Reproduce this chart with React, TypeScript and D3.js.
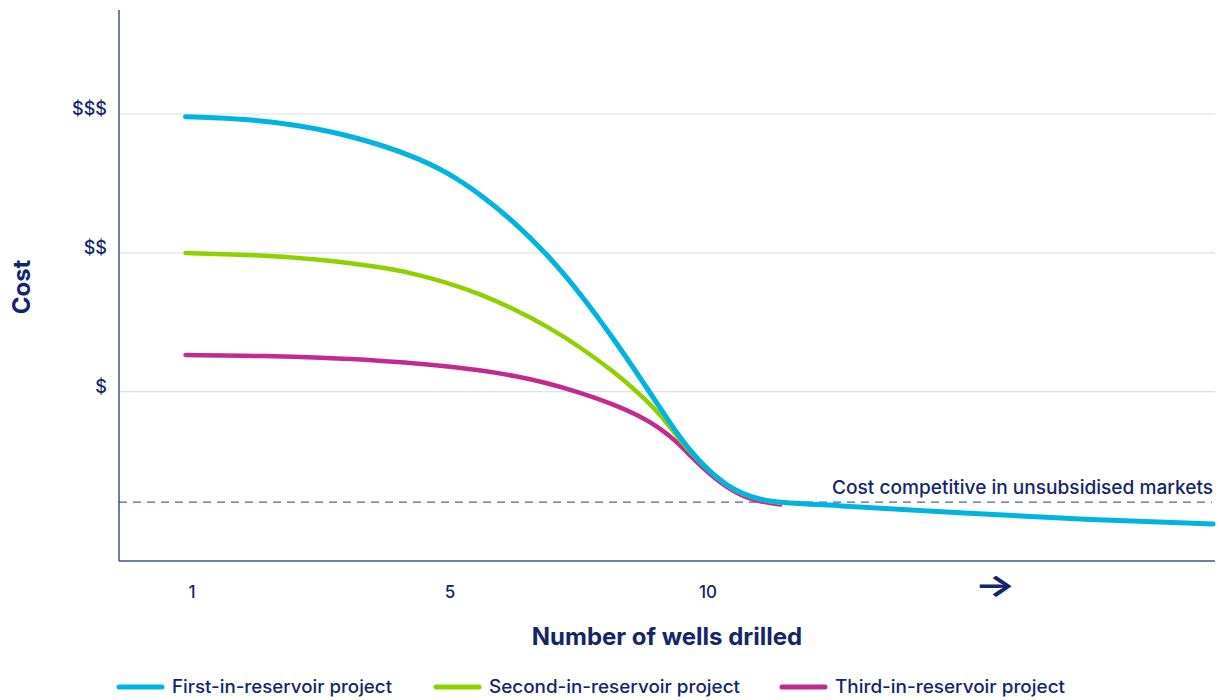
import React from "react";
import { scaleLinear, line, curveBasis } from "d3";

// x: wells drilled, y: relative cost ($ = 1, $$ = 2, $$$ = 3)
const firstWells = [0.9, 1.74, 2.67, 3.6, 4.43, 4.95, 5.58, 6.22, 6.88, 7.52, 8.16, 8.78, 9.26, 9.65, 10.04, 10.37, 10.68, 11.01, 11.4, 12.31, 14.88, 17.46, 19.79];
const firstCost = [2.981, 2.968, 2.921, 2.828, 2.698, 2.583, 2.424, 2.23, 1.992, 1.711, 1.387, 1.048, 0.775, 0.573, 0.42, 0.324, 0.263, 0.223, 0.202, 0.184, 0.126, 0.076, 0.047];

const secondWells = [0.9, 2.21, 2.98, 3.92, 4.43, 4.95, 5.58, 6.22, 6.88, 7.52, 8.16, 8.68, 9.07, 9.36, 9.65, 10.04, 10.37, 10.68, 11.01, 11.4];
const secondCost = [1.999, 1.981, 1.952, 1.898, 1.852, 1.787, 1.704, 1.599, 1.473, 1.322, 1.149, 0.983, 0.839, 0.699, 0.567, 0.419, 0.322, 0.261, 0.221, 0.2];

const thirdWells = [0.9, 2.21, 2.98, 3.92, 4.69, 5.58, 6.22, 6.88, 7.52, 8.16, 8.68, 9.07, 9.4, 9.71, 10.04, 10.37, 10.68, 11.01, 11.4];
const thirdCost = [1.264, 1.257, 1.246, 1.225, 1.196, 1.156, 1.117, 1.063, 0.994, 0.911, 0.825, 0.738, 0.638, 0.519, 0.403, 0.31, 0.245, 0.209, 0.187];

const seriesNames = ["First-in-reservoir project", "Second-in-reservoir project", "Third-in-reservoir project"];
const seriesColors = ["#00b4e0", "#8fd100", "#c22a8f"];

const xTickValues = [1, 5, 10, 15.56];
const xTickLabels = ["1", "5", "10", "→"];
const yTickValues = [1, 2, 3];
const yTickLabels = ["$", "$$", "$$$"];
const thresholdCost = 0.205;
const thresholdLabel = "Cost competitive in unsubsidised markets";

const navy = "#13266b";
const axisColor = "#3d5391";
const font = "Inter, 'Noto Sans', sans-serif";

const App = () => {
  const width = 1220;
  const height = 700;
  const left = 119;
  const right = 1215;
  const top = 10;
  const bottom = 561;

  // tick spacing in the original is not proportional, hence a piecewise scale
  const xScale = scaleLinear().domain([1, 5, 10]).range([192, 450, 708]);
  const yScale = scaleLinear().domain([1, 3]).range([391.7, 114]);

  const makePath = (wells: number[], cost: number[]) =>
    line<number>()
      .x((d) => xScale(d))
      .y((d, i) => yScale(cost[i]))
      .curve(curveBasis)(wells) as string;

  const series = [
    { wells: thirdWells, cost: thirdCost, color: seriesColors[2], w: 4.5 },
    { wells: secondWells, cost: secondCost, color: seriesColors[1], w: 4.5 },
    { wells: firstWells, cost: firstCost, color: seriesColors[0], w: 5 },
  ];

  const legendX = [119, 436, 782];

  return (
    <svg
      width={width}
      height={height}
      viewBox={`0 0 ${width} ${height}`}
      style={{ position: "absolute", left: 0, top: 0, background: "#fff" }}
      fontFamily={font}
    >
      {/* gridlines */}
      {yTickValues.map((v, i) => (
        <g key={i}>
          <line x1={left} x2={right} y1={yScale(v)} y2={yScale(v)} stroke="#dde0ec" strokeWidth={1.2} />
          <text x={107} y={yScale(v) + 1} textAnchor="end" fontSize={18} fontWeight={500} fill={navy}>
            {yTickLabels[i]}
          </text>
        </g>
      ))}

      {/* threshold */}
      <line
        x1={left}
        x2={1212}
        y1={yScale(thresholdCost)}
        y2={yScale(thresholdCost)}
        stroke="#4a63a8"
        strokeWidth={1.2}
        strokeDasharray="8 6"
      />
      <text
        x={1213}
        y={yScale(thresholdCost) - 8}
        textAnchor="end"
        fontSize={18.5}
        fontWeight={500}
        fill={navy}
        textLength={381}
        lengthAdjust="spacingAndGlyphs"
      >
        {thresholdLabel}
      </text>

      {/* axes */}
      <line x1={left} x2={left} y1={top} y2={bottom} stroke={axisColor} strokeWidth={1.5} />
      <line x1={left} x2={right} y1={bottom} y2={bottom} stroke={axisColor} strokeWidth={1.5} />

      {xTickValues.map((v, i) =>
        xTickLabels[i] === "→" ? (
          <text
            key={i}
            x={xScale(v)}
            y={596}
            textAnchor="middle"
            fontSize={30}
            fontWeight={700}
            fill={navy}
            transform={`translate(${xScale(v)},0) scale(1.45,1) translate(${-xScale(v)},0)`}
          >
            {xTickLabels[i]}
          </text>
        ) : (
          <text key={i} x={xScale(v)} y={598} textAnchor="middle" fontSize={17} fontWeight={500} fill={navy}>
            {xTickLabels[i]}
          </text>
        )
      )}

      {/* curves */}
      {series.map((s, i) => (
        <path
          key={i}
          d={makePath(s.wells, s.cost)}
          fill="none"
          stroke={s.color}
          strokeWidth={s.w}
          strokeLinecap="round"
          strokeLinejoin="round"
        />
      ))}

      {/* axis titles */}
      <text x={667} y={645} textAnchor="middle" fontSize={24} fontWeight={700} fill={navy}>
        Number of wells drilled
      </text>
      <text transform="translate(30,287) rotate(-90)" textAnchor="middle" fontSize={24} fontWeight={700} fill={navy}>
        Cost
      </text>

      {/* legend */}
      {seriesNames.map((n, i) => (
        <g key={n}>
          <line
            x1={legendX[i]}
            x2={legendX[i] + 43}
            y1={687}
            y2={687}
            stroke={seriesColors[i]}
            strokeWidth={5}
            strokeLinecap="round"
          />
          <text
            x={legendX[i] + 53}
            y={693}
            fontSize={18}
            fontWeight={500}
            fill={navy}
            textLength={i === 0 ? 220 : i === 1 ? 251 : 230}
            lengthAdjust="spacingAndGlyphs"
          >
            {n}
          </text>
        </g>
      ))}
    </svg>
  );
};

export default App;
